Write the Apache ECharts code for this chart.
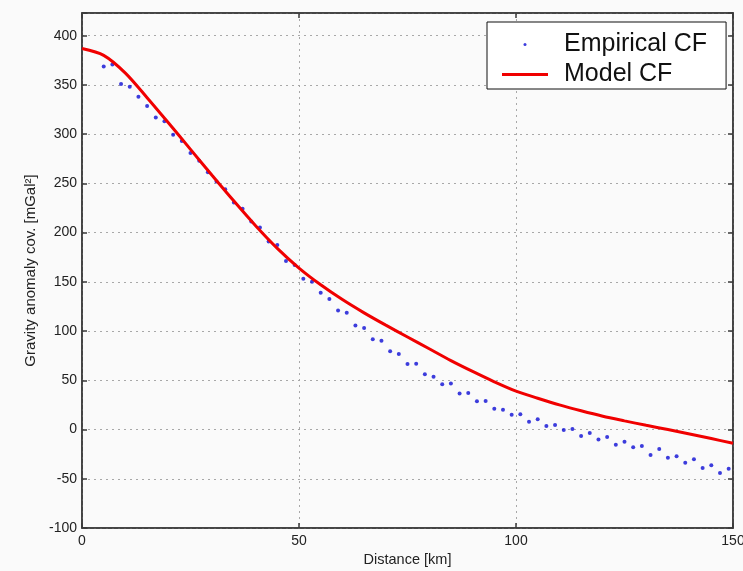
<!DOCTYPE html>
<html>
<head>
<meta charset="utf-8">
<script src="https://cdn.jsdelivr.net/npm/echarts@6/dist/echarts.min.js"></script>
<style>html,body{margin:0;padding:0;background:#fafafa;overflow:hidden;}#c{width:743px;height:571px;}</style>
</head>
<body>
<div id="c"></div>
<script>
// Empirical covariance function: distance [km] and value [mGal^2]
const empDistance = [5,7,9,11,13,15,17,19,21,23,25,27,29,31,33,35,37,39,41,43,45,47,49,51,53,55,57,59,61,63,65,67,69,71,73,75,77,79,81,83,85,87,89,91,93,95,97,99,101,103,105,107,109,111,113,115,117,119,121,123,125,127,129,131,133,135,137,139,141,143,145,147,149];
const empValue = [368.7,370.7,351,348,338,328.5,317,313,299.3,293,280.7,272.9,261.4,251.8,244.1,230.5,224.1,211.2,205.1,190.9,187.5,171.2,167,153.2,150,139,132.5,121,118.7,105.7,103,91.7,90.2,79.5,76.7,66.6,66.9,56.1,53.7,46,46.7,36.6,37.1,28.7,29,21.1,20.1,15,15.4,7.9,10.4,3.6,4.6,-0.5,0.5,-6.6,-3.6,-10,-7.6,-15.4,-12.4,-18.1,-16.8,-25.9,-19.8,-28.7,-27.2,-33.7,-30.3,-39.1,-36.4,-44.2,-39.8];
// Model covariance function
const modelDistance = [0,5,10,15,20,25,30,35,40,45,50,55,60,65,70,75,80,85,90,95,100,105,110,115,120,125,130,135,140,145,150];
const modelValue = [387,380,362,337,311,284.5,258,232,207,184,164,147,132,118.5,106,94,82,70,59,48.5,39,31.8,25,19,13.5,8.8,4.3,0,-4.5,-9.2,-14];
const xTicks = [0,50,100,150];
const yTicks = [-100,-50,0,50,100,150,200,250,300,350,400];

const empData = empDistance.map((d,i)=>[d, empValue[i]]);
const modelData = modelDistance.map((d,i)=>[d, modelValue[i]]);

const font = 'Liberation Sans, Arial, Helvetica, sans-serif';
const axisLineStyle = {color:'#3a3a3a', width:1.5};
const gridStyle = {color:'#a8a8a8', width:1, type:[2,4]};

const chart = echarts.init(document.getElementById('c'), null, {renderer:'canvas'});
chart.setOption({
  backgroundColor:'#fafafa',
  animation:false,
  grid:{left:82, right:10, top:13, bottom:43, outerBoundsMode:'none', containLabel:false,
    show:true, backgroundColor:'#fafafa', borderColor:'#3a3a3a', borderWidth:1.5},
  legend:{
    orient:'vertical', left:487, top:22,
    backgroundColor:'#ffffff', borderColor:'#111', borderWidth:1,
    padding:[10,19,2,15], itemGap:5, itemWidth:46, itemHeight:3,
    textStyle:{fontFamily:font, fontSize:25, color:'#111', padding:[0,0,0,11]},
    data:[
      {name:'Empirical CF', icon:'circle'},
      {name:'Model CF', icon:'rect'}
    ]
  },
  xAxis:[{
    type:'value', min:xTicks[0], max:xTicks[xTicks.length-1], interval:50,
    name:'Distance [km]', nameLocation:'middle', nameGap:21,
    nameTextStyle:{fontFamily:font, fontSize:14.5, color:'#222'},
    axisLine:{show:true, onZero:false, lineStyle:axisLineStyle},
    axisTick:{show:true, inside:true, length:5, lineStyle:axisLineStyle},
    axisLabel:{fontFamily:font, fontSize:14, color:'#222', margin:6,
      formatter:v=>xTicks.includes(v)?String(v):''},
    splitLine:{show:true, lineStyle:gridStyle}
  },{
    type:'value', position:'top', min:0, max:150, interval:50,
    axisLine:{show:true, onZero:false, lineStyle:axisLineStyle},
    axisTick:{show:true, inside:true, length:5, lineStyle:axisLineStyle},
    axisLabel:{show:false}, splitLine:{show:false}
  }],
  yAxis:[{
    type:'value', min:-100, max:423, interval:50,
    name:'Gravity anomaly cov. [mGal²]', nameLocation:'middle', nameGap:44, nameRotate:90,
    nameTextStyle:{fontFamily:font, fontSize:15, color:'#222'},
    axisLine:{show:true, onZero:false, lineStyle:axisLineStyle},
    axisTick:{show:true, inside:true, length:5, lineStyle:axisLineStyle},
    axisLabel:{fontFamily:font, fontSize:14, color:'#222', margin:5,
      formatter:v=>yTicks.includes(v)?String(v):''},
    splitLine:{show:true, lineStyle:gridStyle}
  },{
    type:'value', position:'right', min:-100, max:423, interval:50,
    axisLine:{show:true, onZero:false, lineStyle:axisLineStyle},
    axisTick:{show:true, inside:true, length:5, lineStyle:axisLineStyle},
    axisLabel:{show:false}, splitLine:{show:false}
  }],
  series:[
    {name:'Empirical CF', type:'scatter', data:empData, symbol:'circle', symbolSize:4,
     itemStyle:{color:'#0c0cd4'}, z:2},
    {name:'Model CF', type:'line', data:modelData, showSymbol:false, symbol:'none',
     smooth:0.3,
     lineStyle:{color:'#f00000', width:3}, itemStyle:{color:'#f00000'}, z:3}
  ]
});
</script>
</body>
</html>
